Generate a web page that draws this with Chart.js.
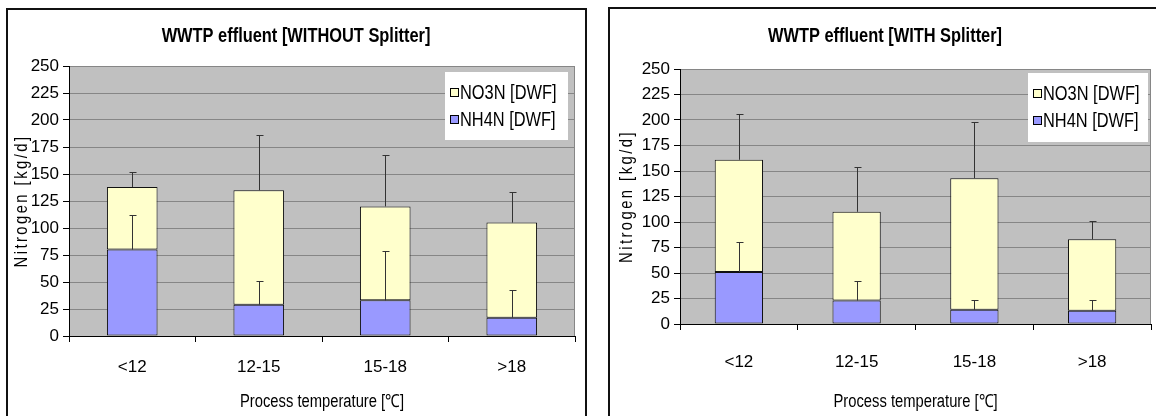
<!DOCTYPE html>
<html>
<head>
<meta charset="utf-8">
<script src="https://cdn.jsdelivr.net/npm/chart.js@4.4.1/dist/chart.umd.min.js"></script>
<style>
html, body { margin: 0; padding: 0; background: #fff; overflow: hidden; width: 1156px; height: 416px; }
.box { position: absolute; border: 2px solid #111; box-sizing: border-box; }
canvas { position: absolute; top: 0; }
</style>
</head>
<body>
<div class="box" style="left:6px;top:8px;width:581px;height:440px"></div>
<div class="box" style="left:608px;top:7px;width:580px;height:440px"></div>
<canvas id="c1" width="596" height="416" style="left:0"></canvas>
<canvas id="c2" width="560" height="416" style="left:596px"></canvas>
<script>
// data
const categories = ['<12', '12-15', '15-18', '>18'];
const nh4Without = [80, 29, 33, 17];
const no3Without = [58, 106, 87, 88];
const nh4ErrWithout = [32, 22, 46, 26];
const no3ErrWithout = [14, 51, 48, 28];
const nh4With = [51, 23, 14, 13];
const no3With = [110, 87, 129, 70];
const nh4ErrWith = [29, 19, 10, 11];
const no3ErrWith = [45, 44, 55, 18];
const yTicks = { min: 0, max: 250, step: 25 };

const FONT = "'Liberation Sans', Arial, sans-serif";
const SQUEEZE = 0.82; // the original type is a narrow face

// text squeezed sideways so it looks like the narrow original
function narrowText(ctx, text, x, y) {
  ctx.save();
  ctx.translate(x, y);
  ctx.scale(SQUEEZE, 1);
  ctx.fillText(text, 0, 0);
  ctx.restore();
}

const decor = {
  id: 'decor',
  beforeDraw(chart) {
    const ctx = chart.ctx, a = chart.chartArea;
    ctx.save();
    ctx.fillStyle = '#c0c0c0';
    ctx.fillRect(a.left, a.top, a.right - a.left, a.bottom - a.top);
    ctx.restore();
  },
  afterDatasetsDraw(chart) {
    const ctx = chart.ctx, y = chart.scales.y, a = chart.chartArea;
    const sets = chart.data.datasets;
    ctx.save();
    // right edge of the plot
    ctx.strokeStyle = '#868686';
    ctx.lineWidth = 1;
    ctx.beginPath();
    ctx.moveTo(Math.round(a.right) - 0.5, a.top);
    ctx.lineTo(Math.round(a.right) - 0.5, a.bottom);
    ctx.stroke();
    // error bars, only upward
    ctx.strokeStyle = '#333';
    sets.forEach(function (ds, i) {
      chart.getDatasetMeta(i).data.forEach(function (bar, j) {
        let sum = 0;
        for (let k = 0; k <= i; k++) sum += sets[k].data[j];
        const top = Math.round(y.getPixelForValue(sum + ds.errors[j])) + 0.5;
        const x = Math.round(bar.x) + 0.5;
        ctx.beginPath();
        ctx.moveTo(x, bar.y);
        ctx.lineTo(x, top);
        ctx.moveTo(x - 3, top);
        ctx.lineTo(x + 4, top);
        ctx.stroke();
      });
    });
    ctx.restore();
  },
  afterDraw(chart, args, o) {
    const ctx = chart.ctx, a = chart.chartArea;
    const sets = chart.data.datasets;
    ctx.save();
    ctx.fillStyle = '#000';
    ctx.textAlign = 'center';
    ctx.textBaseline = 'middle';
    // chart title
    ctx.font = 'bold 20px ' + FONT;
    narrowText(ctx, o.title, o.titleX, o.titleY);
    // axis titles
    ctx.font = '18px ' + FONT;
    narrowText(ctx, o.xTitle, (a.left + a.right) / 2, o.xTitleY);
    ctx.save();
    ctx.translate(o.yTitleX, (a.top + a.bottom) / 2);
    ctx.rotate(-Math.PI / 2);
    ctx.scale(SQUEEZE, 1);
    ctx.letterSpacing = '3px';
    ctx.fillText(o.yTitle, 0, 0);
    ctx.restore();
    // legend box inside the plot
    const lx = a.right - o.legRight - o.legW, ly = a.top + o.legTop;
    ctx.fillStyle = '#fff';
    ctx.fillRect(lx, ly, o.legW, o.legH);
    ctx.font = '20px ' + FONT;
    ctx.textAlign = 'left';
    const order = sets.slice().reverse();
    order.forEach(function (ds, r) {
      const cy = ly + 21 + r * 27;
      ctx.fillStyle = ds.backgroundColor;
      ctx.fillRect(lx + 5.5, cy - 4.5, 8, 8);
      ctx.strokeStyle = '#000';
      ctx.lineWidth = 1;
      ctx.strokeRect(lx + 5.5, cy - 4.5, 8, 8);
      ctx.fillStyle = '#000';
      narrowText(ctx, ds.label, lx + 15, cy);
    });
    ctx.restore();
  }
};

function makeChart(id, title, nh4, no3, nh4Err, no3Err, g) {
  return new Chart(document.getElementById(id), {
    type: 'bar',
    data: {
      labels: categories,
      datasets: [
        { label: 'NH4N [DWF]', data: nh4, errors: nh4Err, backgroundColor: '#9999ff', borderColor: '#111', borderWidth: 1, borderSkipped: false },
        { label: 'NO3N [DWF]', data: no3, errors: no3Err, backgroundColor: '#ffffcc', borderColor: '#111', borderWidth: 1, borderSkipped: false }
      ]
    },
    options: {
      responsive: false,
      animation: false,
      categoryPercentage: 1,
      barPercentage: g.barPct,
      layout: { padding: { left: 0, right: g.padRight, top: g.padTop, bottom: 0 } },
      plugins: {
        legend: { display: false },
        tooltip: { enabled: false },
        decor: {
          title: title, titleX: g.titleX, titleY: 36,
          xTitle: 'Process temperature [℃]', xTitleY: 402,
          yTitle: 'Nitrogen [kg/d]', yTitleX: g.yTitleX,
          legRight: g.legRight, legTop: g.legTop, legW: g.legW, legH: g.legH
        }
      },
      scales: {
        x: {
          stacked: true,
          offset: true,
          grid: { offset: true, drawOnChartArea: false, tickLength: 6, tickColor: '#000' },
          border: { color: '#000', width: 1 },
          ticks: { color: '#000', padding: g.xPad, font: { family: FONT, size: 17 } },
          afterFit(s) { s.height = g.xHeight; }
        },
        y: {
          stacked: true,
          min: yTicks.min,
          max: yTicks.max,
          grid: { color: '#868686', tickLength: 6, tickColor: '#000' },
          border: { color: '#000', width: 1 },
          ticks: { stepSize: yTicks.step, color: '#000', padding: 4, font: { family: FONT, size: 17 } },
          afterFit(s) { s.width = g.yWidth; }
        }
      }
    },
    plugins: [decor]
  });
}

makeChart('c1', 'WWTP effluent [WITHOUT Splitter]', nh4Without, no3Without, nh4ErrWithout, no3ErrWithout,
  { yWidth: 69, xHeight: 80, padRight: 21, padTop: 66, titleX: 296, yTitleX: 22, xPad: 15,
    legRight: 7, legTop: 6, legW: 123, legH: 68, barPct: 0.4 });
makeChart('c2', 'WWTP effluent [WITH Splitter]', nh4With, no3With, nh4ErrWith, no3ErrWith,
  { yWidth: 84, xHeight: 92, padRight: 5, padTop: 69, titleX: 289, yTitleX: 31, xPad: 22,
    legRight: 3, legTop: 4, legW: 120, legH: 69, barPct: 0.41 });
</script>
</body>
</html>
